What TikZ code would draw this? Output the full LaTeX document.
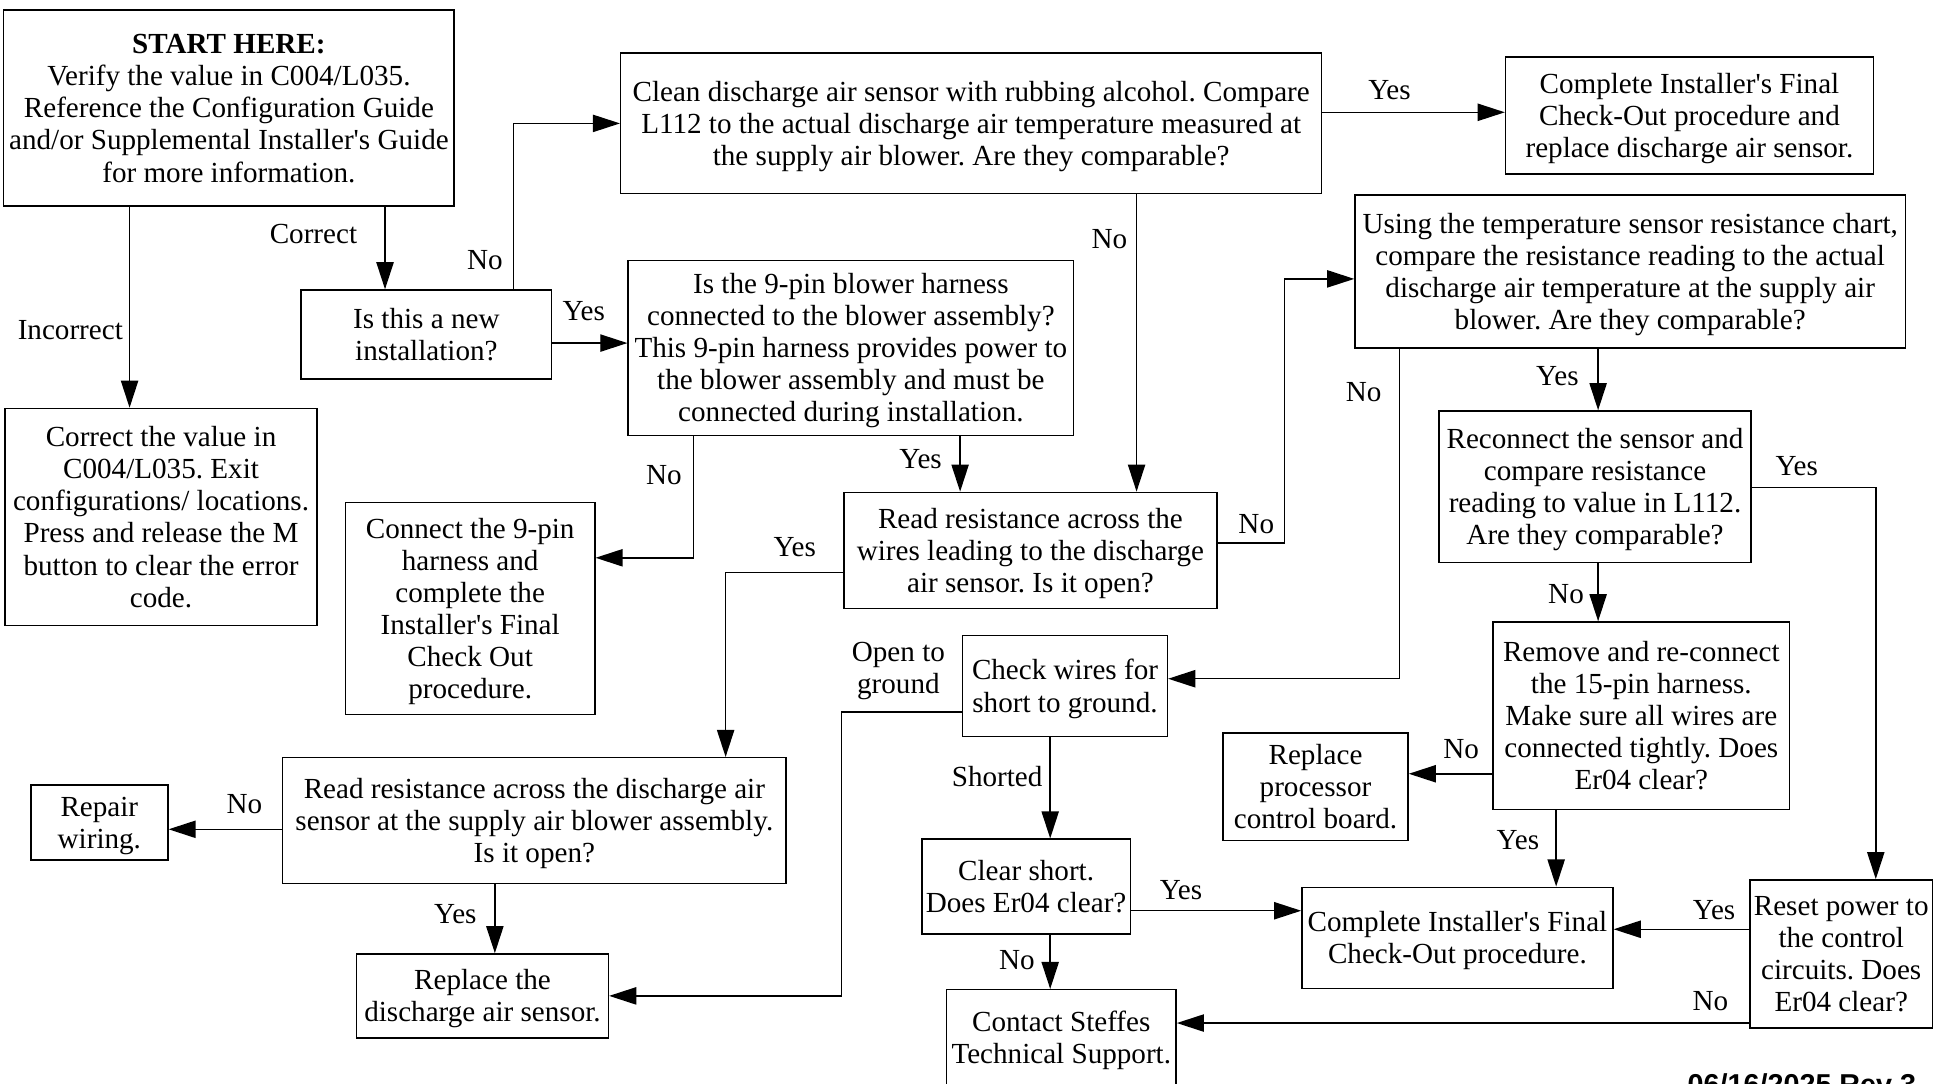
\documentclass[tikz,border=0pt]{standalone}
\usepackage{fontspec}
\setmainfont{Liberation Serif}
\newfontfamily\datefont{Liberation Sans}
\usetikzlibrary{arrows.meta}
\newcommand\ap{\textquotesingle}
\newcommand\tb{\rule{0pt}{21pt}}
\frenchspacing
\begin{document}
\begin{tikzpicture}[x=1pt,y=-1pt,
  txt/.style={align=center, font=\fontsize{23.6}{26}\selectfont\frenchspacing,
    execute at end node={\rule[-5pt]{0pt}{5pt}}},
  box/.style={txt, draw, line width=1.2pt, inner sep=0pt},
  lbl/.style={txt, inner sep=0pt},
  arr/.style={line width=1.2pt, -{Triangle[length=22pt,width=14pt]}}]
\useasboundingbox (0,0) rectangle (1568,878);
\fill[white] (0,0) rectangle (1568,878);

% boxes
\node[box, minimum width=365pt, minimum height=159pt] (start) at (185.5,87.5) {\tb\textbf{START HERE:}\\Verify the value in C004/L035.\\Reference the Configuration Guide\\and/or Supplemental Installer\ap s Guide\\for more information.};
\node[box, minimum width=253pt, minimum height=176pt] (fixval) at (130.5,419) {\tb Correct the value in\\C004/L035. Exit\\configurations/ locations.\\Press and release the M\\button to clear the error\\code.};
\node[box, minimum width=203pt, minimum height=72pt] (isnew) at (345.5,271) {\tb Is this a new\\installation?};
\node[box, minimum width=568pt, minimum height=114pt] (clean) at (787,100) {\tb Clean discharge air sensor with rubbing alcohol. Compare\\L112 to the actual discharge air temperature measured at\\the supply air blower. Are they comparable?};
\node[box, minimum width=298pt, minimum height=95pt] (final1) at (1369,93.5) {\tb Complete Installer\ap s Final\\Check-Out procedure and\\replace discharge air sensor.};
\node[box, minimum width=361pt, minimum height=142pt] (nine) at (689.5,282) {\tb Is the 9-pin blower harness\\connected to the blower assembly?\\This 9-pin harness provides power to\\the blower assembly and must be\\connected during installation.};
\node[box, minimum width=446pt, minimum height=124pt] (using) at (1321,220) {\tb Using the temperature sensor resistance chart,\\compare the resistance reading to the actual\\discharge air temperature at the supply air\\blower. Are they comparable?};
\node[box, minimum width=202pt, minimum height=172pt] (connect) at (381,493) {\tb Connect the 9-pin\\harness and\\complete the\\Installer\ap s Final\\Check Out\\procedure.};
\node[box, minimum width=302pt, minimum height=94pt] (readw) at (835,446) {\tb Read resistance across the\\wires leading to the discharge\\air sensor. Is it open?};
\node[box, minimum width=253pt, minimum height=123pt] (reconn) at (1292.5,394.5) {\tb Reconnect the sensor and\\compare resistance\\reading to value in L112.\\Are they comparable?};
\node[box, minimum width=166pt, minimum height=82pt] (check) at (863,556) {\tb Check wires for\\short to ground.};
\node[box, minimum width=240pt, minimum height=152pt] (remove) at (1330,580) {\tb Remove and re-connect\\the 15-pin harness.\\Make sure all wires are\\connected tightly. Does\\Er04 clear?};
\node[box, minimum width=150pt, minimum height=87pt] (proc) at (1066,637.5) {\tb Replace\\processor\\control board.};
\node[box, minimum width=408pt, minimum height=102pt] (reads) at (433,665) {\tb Read resistance across the discharge air\\sensor at the supply air blower assembly.\\Is it open?};
\node[box, minimum width=111pt, minimum height=61pt] (repair) at (80.5,666.5) {\tb Repair\\wiring.};
\node[box, minimum width=169pt, minimum height=77pt] (clear) at (831.5,718.5) {\tb Clear short.\\Does Er04 clear?};
\node[box, minimum width=252pt, minimum height=82pt] (final2) at (1181,760) {\tb Complete Installer\ap s Final\\Check-Out procedure.};
\node[box, minimum width=148pt, minimum height=120pt] (reset) at (1492,773) {\tb Reset power to\\the control\\circuits. Does\\Er04 clear?};
\node[box, minimum width=204pt, minimum height=68pt] (replace) at (391,807) {\tb Replace the\\discharge air sensor.};
\node[box, minimum width=186pt, minimum height=78pt] (contact) at (860,841) {\tb Contact Steffes\\Technical Support.};

\node[inner sep=0pt, anchor=base east, font=\datefont\bfseries\fontsize{23.3}{26}\selectfont] (date) at (1553,887) {06/16/2025 Rev 3};

% helper coordinates
\coordinate (xa) at (105,0);
\coordinate (xb) at (312,0);
\coordinate (xc) at (416,0);
\coordinate (yd) at (0,278);
\coordinate (ye) at (0,91);
\coordinate (xf) at (921,0);
\coordinate (xg) at (778,0);
\coordinate (xh) at (562,0);
\coordinate (yh) at (0,452);
\coordinate (yi) at (0,440);
\coordinate (ci) at (1041,226);
\coordinate (yj) at (0,464);
\coordinate (xj) at (588,0);
\coordinate (xk) at (1295,0);
\coordinate (xl) at (1134,0);
\coordinate (yl) at (0,550);
\coordinate (yn) at (0,395);
\coordinate (xn) at (1520,0);
\coordinate (yo) at (0,627);
\coordinate (xp) at (1261,0);
\coordinate (xq) at (851,0);
\coordinate (yr) at (0,577);
\coordinate (cr) at (682,807);
\coordinate (ys) at (0,738);
\coordinate (yu) at (0,753);
\coordinate (yv) at (0,829);
\coordinate (yw) at (0,672);
\coordinate (xx) at (401,0);

% connectors
\draw[arr] (start.south -| xa) -- (fixval.north -| xa);
\draw[arr] (start.south -| xb) -- (isnew.north -| xb);
\draw[arr] (isnew.north -| xc) |- (clean.west);
\draw[arr] (isnew.east |- yd) -- (nine.west |- yd);
\draw[arr] (clean.east |- ye) -- (final1.west |- ye);
\draw[arr] (clean.south -| xf) -- (readw.north -| xf);
\draw[arr] (nine.south -| xg) -- (readw.north -| xg);
\draw[arr] (nine.south -| xh) |- (connect.east |- yh);
\draw[arr] (readw.east |- yi) -| (ci) -- (using.west |- ci);
\draw[arr] (readw.west |- yj) -| (reads.north -| xj);
\draw[arr] (using.south -| xk) -- (reconn.north -| xk);
\draw[arr] (using.south -| xl) |- (check.east |- yl);
\draw[arr] (reconn.south -| xk) -- (remove.north -| xk);
\draw[arr] (reconn.east |- yn) -| (reset.north -| xn);
\draw[arr] (remove.west |- yo) -- (proc.east |- yo);
\draw[arr] (remove.south -| xp) -- (final2.north -| xp);
\draw[arr] (check.south -| xq) -- (clear.north -| xq);
\draw[arr] (check.west |- yr) -| (cr) -- (replace.east |- cr);
\draw[arr] (clear.east |- ys) -- (final2.west |- ys);
\draw[arr] (clear.south -| xq) -- (contact.north -| xq);
\draw[arr] (reset.west |- yu) -- (final2.east |- yu);
\draw[arr] (reset.west |- yv) -- (contact.east |- yv);
\draw[arr] (reads.west |- yw) -- (repair.east |- yw);
\draw[arr] (reads.south -| xx) -- (replace.north -| xx);

% labels
\node[lbl] (l1) at (57,267) {\tb Incorrect};
\node[lbl] (l2) at (254,189) {\tb Correct};
\node[lbl] (l3) at (393,210) {\tb No};
\node[lbl] (l4) at (473,252) {\tb Yes};
\node[lbl] (l5) at (1126,73) {\tb Yes};
\node[lbl] (l6) at (899,193) {\tb No};
\node[lbl] (l7) at (746,372) {\tb Yes};
\node[lbl] (l8) at (538,385) {\tb No};
\node[lbl] (l9) at (1018,424) {\tb No};
\node[lbl] (l10) at (644,443) {\tb Yes};
\node[lbl] (l11) at (1262,304) {\tb Yes};
\node[lbl] (l12) at (1105,317) {\tb No};
\node[lbl] (l13) at (1269,481) {\tb No};
\node[lbl] (l14) at (1456,377) {\tb Yes};
\node[lbl] (l15) at (1184,607) {\tb No};
\node[lbl] (l16) at (1230,680) {\tb Yes};
\node[lbl] (l17) at (808,629) {\tb Shorted};
\node[lbl] (l18) at (728,541) {\tb Open to\\ground};
\node[lbl] (l19) at (957,721) {\tb Yes};
\node[lbl] (l20) at (824,778) {\tb No};
\node[lbl] (l21) at (1389,737) {\tb Yes};
\node[lbl] (l22) at (1386,811) {\tb No};
\node[lbl] (l23) at (198,651) {\tb No};
\node[lbl] (l24) at (369,740) {\tb Yes};
\end{tikzpicture}
\end{document}
